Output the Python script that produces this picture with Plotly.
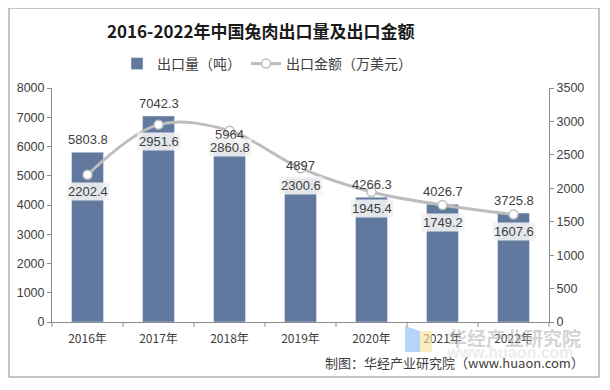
import plotly.graph_objects as go

years = ["2016年", "2017年", "2018年", "2019年", "2020年", "2021年", "2022年"]
volume = [5803.8, 7042.3, 5964, 4897, 4266.3, 4026.7, 3725.8]
amount = [2202.4, 2951.6, 2860.8, 2300.6, 1945.4, 1749.2, 1607.6]
left_ticks = [0, 1000, 2000, 3000, 4000, 5000, 6000, 7000, 8000]
right_ticks = [0, 500, 1000, 1500, 2000, 2500, 3000, 3500]

FONT = "Liberation Sans, Arial, Noto Sans CJK SC"
CJK = "Noto Sans CJK SC, Liberation Sans"
BAR = "#62799F"
LINE = "#BDBDBD"
TXT = "#404040"

# page body margin offsets the figure by 8px; compensate
OFF = 8
W, H = 610, 390
L, R, T, B = 52 - OFF, 549 - OFF, 88 - OFF, 322 - OFF

def px(x):
    return (x - OFF - L) / (R - L)

def py(y):
    return (B - (y - OFF)) / (B - T)

fig = go.Figure()
fig.add_trace(go.Bar(
    x=years, y=volume, name="出口量（吨）", marker_color=BAR,
    width=0.45, yaxis="y",
))
fig.add_trace(go.Scatter(
    x=years, y=amount, name="出口金额（万美元）", yaxis="y2",
    mode="lines+markers", line=dict(color=LINE, width=3, shape="spline", smoothing=1),
    marker=dict(size=9, color="white", line=dict(color=LINE, width=1.5)),
))

annotations = []
for yr, v in zip(years, volume):
    annotations.append(dict(
        x=yr, y=v, xref="x", yref="y", text=f"{v:g}", showarrow=False,
        yanchor="middle", yshift=13, font=dict(family=FONT, size=13, color=TXT),
    ))
for yr, v in zip(years, amount):
    annotations.append(dict(
        x=yr, y=v, xref="x", yref="y2", text=f"{v:g}", showarrow=False,
        yanchor="middle", yshift=-17, font=dict(family=FONT, size=13, color=TXT),
        bgcolor="rgba(242,242,242,0.9)", borderpad=1,
    ))

# title (centered at x~261 in the reference)
annotations.append(dict(
    x=px(261), y=py(31), xref="paper", yref="paper",
    text="<b>2016-2022年中国兔肉出口量及出口金额</b>", showarrow=False,
    font=dict(family=CJK, size=17, color="#1a1a1a"), xanchor="center", yanchor="middle",
))

# watermark and credit
annotations.append(dict(
    x=px(514), y=py(337), xref="paper", yref="paper", text="<b>华经产业研究院</b>",
    showarrow=False, font=dict(family=CJK, size=19, color="rgba(175,175,175,0.55)"),
    xanchor="center", yanchor="middle",
))
annotations.append(dict(
    x=px(510), y=py(352), xref="paper", yref="paper", text="<b>www.huaon.com</b>",
    showarrow=False, font=dict(family=FONT, size=16, color="rgba(200,200,200,0.35)"),
    xanchor="center", yanchor="middle",
))
annotations.append(dict(
    x=px(586), y=py(362), xref="paper", yref="paper", text="制图：华经产业研究院（www.huaon.com）",
    showarrow=False, font=dict(family=CJK, size=13, color=TXT),
    xanchor="right", yanchor="middle",
))

shapes = [
    dict(type="rect", xref="paper", yref="paper", x0=px(9), x1=px(599), y0=py(8), y1=py(377),
         line=dict(color="#8C8C8C", width=1), fillcolor="rgba(0,0,0,0)", layer="below"),
    dict(type="path", xref="paper", yref="paper",
         path=f"M {px(405)},{py(326)} L {px(420)},{py(331)} L {px(420)},{py(352)} L {px(405)},{py(352)} Z",
         fillcolor="rgba(150,195,245,0.7)", line=dict(width=0)),
    dict(type="rect", xref="paper", yref="paper", x0=px(420), x1=px(432), y0=py(331), y1=py(352),
         fillcolor="rgba(250,225,150,0.6)", line=dict(width=0)),
]

fig.update_layout(
    width=W, height=H,
    margin=dict(l=L, r=W - R, t=T, b=H - B, autoexpand=False),
    paper_bgcolor="white", plot_bgcolor="white",
    legend=dict(orientation="h", x=px(117), xanchor="left", y=py(64), yanchor="middle",
                font=dict(family=CJK, size=14, color=TXT), itemwidth=30, traceorder="normal",
                bgcolor="rgba(0,0,0,0)"),
    xaxis=dict(showline=True, linecolor="#8C8C8C", ticks="", showgrid=False,
               tickfont=dict(family=CJK, size=12, color=TXT), ticklabelstandoff=6),
    yaxis=dict(range=[0, 8000], tickvals=left_ticks, showline=True, linecolor="#8C8C8C",
               ticks="outside", ticklen=4, tickcolor="#8C8C8C", showgrid=False, zeroline=False,
               tickfont=dict(family=FONT, size=12.5, color=TXT)),
    yaxis2=dict(range=[0, 3500], tickvals=right_ticks, overlaying="y", side="right",
                showline=True, linecolor="#8C8C8C", ticks="outside", ticklen=4, tickcolor="#8C8C8C",
                showgrid=False, zeroline=False, tickfont=dict(family=FONT, size=12.5, color=TXT)),
    annotations=annotations, shapes=shapes,
    bargap=0.55,
)

# category-boundary tick marks on x axis
for i in range(len(years) + 1):
    fig.add_shape(type="line", xref="paper", yref="paper",
                  x0=i / len(years), x1=i / len(years), y0=0, y1=-5 / (B - T),
                  line=dict(color="#8C8C8C", width=1))

fig.write_html("out.html")
